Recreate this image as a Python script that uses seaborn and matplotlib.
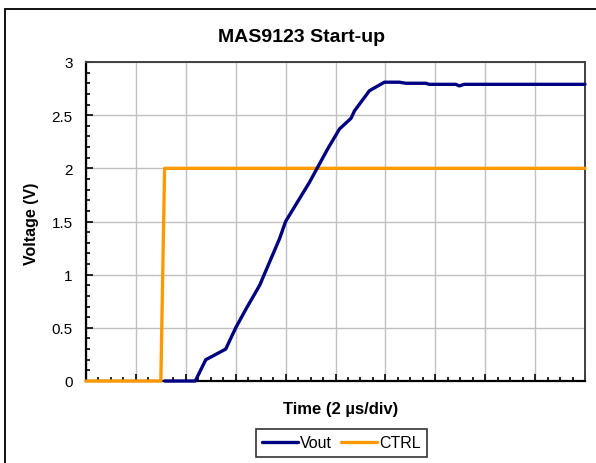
import numpy as np
import pandas as pd
import seaborn as sns
from matplotlib import pyplot as plt
from matplotlib.lines import Line2D
from matplotlib.ticker import MultipleLocator

# time in microseconds (2 us per division, 10 divisions)
vout_t = [3.15, 4.38, 4.8, 5.6, 6.0, 6.42, 6.96, 7.76, 8.0, 8.96, 9.68, 10.16,
          10.62, 10.76, 11.36, 11.96, 12.56, 12.82, 13.62, 13.76, 14.82, 14.96,
          15.16, 20]
vout_v = [0, 0, 0.2, 0.3, 0.5, 0.68, 0.9, 1.34, 1.5, 1.87, 2.18, 2.37,
          2.47, 2.54, 2.73, 2.81, 2.81, 2.80, 2.80, 2.79, 2.79, 2.775,
          2.79, 2.79]
ctrl_t = [0, 3.0, 3.15, 20]
ctrl_v = [0, 0, 2, 2]

series = ['Vout', 'CTRL']
colors = {'Vout': '#000080', 'CTRL': '#FF9900'}


def build_frame():
    df1 = pd.DataFrame({'t': vout_t, 'v': vout_v, 'sig': 'Vout'})
    df2 = pd.DataFrame({'t': ctrl_t, 'v': ctrl_v, 'sig': 'CTRL'})
    return pd.concat([df2, df1], ignore_index=True)


if __name__ == '__main__':
    sns.set_theme(style='white')
    plt.rcParams['font.family'] = ['Liberation Sans', 'DejaVu Sans']
    plt.rcParams['text.color'] = 'black'
    plt.rcParams['xtick.color'] = 'black'
    plt.rcParams['ytick.color'] = 'black'

    W, H = 596, 464
    fig = plt.figure(figsize=(W / 100, H / 100), dpi=100)
    ax = fig.add_axes([86 / W, 1 - 382 / H, (585 - 86) / W, (382 - 63) / H])

    data = build_frame()
    # CTRL drawn first, Vout on top
    sns.lineplot(data=data, x='t', y='v', hue='sig', hue_order=series[::-1],
                 palette=colors, estimator=None, sort=False, linewidth=2.4,
                 ax=ax)
    for ln in ax.get_lines():
        ln.set_clip_on(False)
        ln.set_zorder(5)

    ax.set_xlim(0, 20)
    ax.set_ylim(0, 3)
    ax.xaxis.set_major_locator(MultipleLocator(2))
    ax.xaxis.set_minor_locator(MultipleLocator(0.5))
    ax.yaxis.set_major_locator(MultipleLocator(0.5))
    ax.yaxis.set_minor_locator(MultipleLocator(0.1))
    ax.set_yticks([0, 0.5, 1, 1.5, 2, 2.5, 3])
    ax.set_yticklabels(['0', '0.5', '1', '1.5', '2', '2.5', '3'])
    ax.tick_params(axis='x', which='both', direction='in', labelbottom=False,
                   bottom=True, color='black', width=1.2)
    ax.tick_params(axis='x', which='major', length=5)
    ax.tick_params(axis='x', which='minor', length=3)
    ax.tick_params(axis='y', which='both', direction='in', left=True,
                   color='black', width=1.2, labelsize=11, pad=9.5)
    ax.tick_params(axis='y', which='major', length=5)
    ax.tick_params(axis='y', which='minor', length=3)
    ax.grid(True, which='major', color='#c0c0c0', linewidth=1)
    ax.set_axisbelow(True)

    for side in ['left', 'bottom']:
        ax.spines[side].set_color('black')
        ax.spines[side].set_linewidth(1.6)
    for side in ['top', 'right']:
        ax.spines[side].set_color('#404040')
        ax.spines[side].set_linewidth(1.4)

    ax.set_xlabel('')
    ax.set_ylabel('')
    handles, labels = ax.get_legend_handles_labels()
    ax.get_legend().remove()
    order = [labels.index(s) for s in series]
    handles = [handles[i] for i in order]
    labels = [labels[i] for i in order]

    fig.text(302 / W, 1 - 38 / H, 'MAS9123 Start-up', ha='center',
             va='center', fontsize=14, fontweight='bold')
    fig.text(31.7 / W, 1 - 224 / H, 'Voltage (V)', ha='center', va='center',
             rotation=90, fontsize=11.5, fontweight='bold')
    fig.text(341 / W, 1 - 410 / H, 'Time (2 \u00b5s/div)', ha='center',
             va='center', fontsize=12, fontweight='bold')

    leg = fig.legend(handles, labels, loc='center',
                     bbox_to_anchor=(341.5 / W, 1 - 444 / H), ncol=2,
                     frameon=True, fancybox=False, fontsize=11.5,
                     handlelength=2.2, handletextpad=0.15, columnspacing=0.6,
                     borderpad=0.4, borderaxespad=0)
    leg.get_frame().set_edgecolor('black')
    leg.get_frame().set_linewidth(1.2)

    # outer chart frame (right and bottom edges are cut off)
    fig.add_artist(Line2D([4.7 / W, 4.7 / W], [0, 1 - 9.7 / H],
                          transform=fig.transFigure, color='black', lw=1.3))
    fig.add_artist(Line2D([4.7 / W, 1], [1 - 9.7 / H, 1 - 9.7 / H],
                          transform=fig.transFigure, color='black', lw=1.3))

    fig.savefig('out.png', dpi=100)
